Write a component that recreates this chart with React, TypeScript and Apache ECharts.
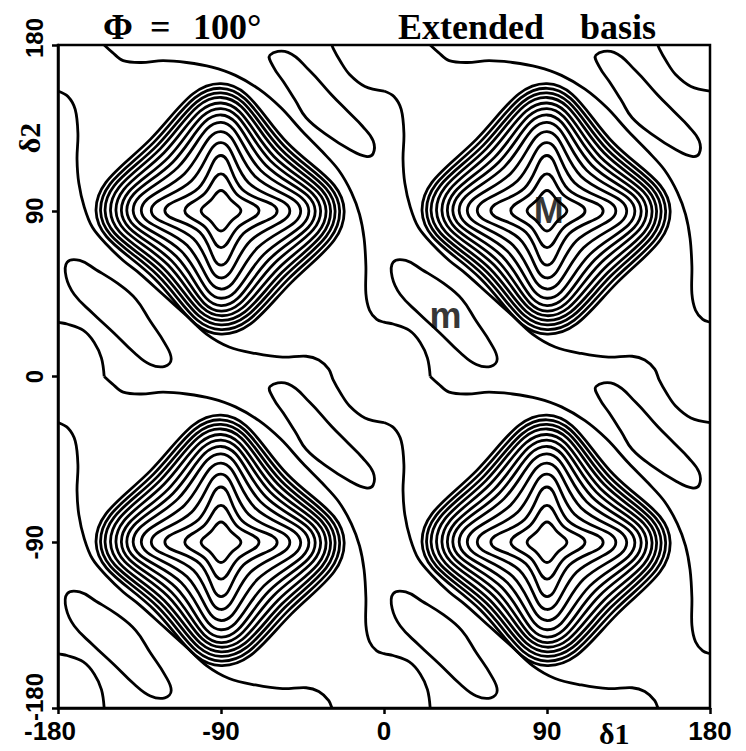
import React, { useEffect, useRef } from 'react';
import * as echarts from 'echarts';

// ---- axes ----
const xTicks = [-180, -90, 0, 90, 180];
const xTickLabels = ['-180', '-90', '0', '90', '180'];
const yTicks = [-180, -90, 0, 90, 180];
const yTickLabels = ['-180', '-90', '0', '90', '180'];

// ---- contour data (one 180x180 period tile, local coords u,v in degrees) ----
// open contour passing above / right of the maximum (one period of a periodic curve)
const upperContour: number[][] = [
  [25.5, 180], [30, 176], [36, 171.5], [46, 170.5], [58, 171.5], [71, 170.5], [85, 168],
  [98, 163.5], [111, 156], [123, 146], [135, 133], [146, 122], [155, 112], [162, 100],
  [166.5, 88], [169, 75], [170, 60], [170, 45], [172, 36], [176, 31], [180, 29.5],
  [185, 28.5], [194, 25], [200, 18.5], [204, 10], [205.5, 0],
];
// open contour passing left of / below the maximum
const lowerContour: number[][] = [
  [0, 155], [5.5, 152], [9.5, 145], [11, 132], [10.5, 118], [11.5, 105], [14.5, 92],
  [19, 81], [27, 71.5], [36, 63], [45, 56], [58, 44.5], [71, 33], [82, 23], [94.5, 16],
  [109, 12.5], [124, 10.5], [137, 11], [144, 9], [149.5, 4], [152, -2], [156, -9],
  [161, -16], [169.5, -22.5], [180, -25],
];
// closed minimum "m" (lower-left of the maximum)
const basinM: number[][] = [
  [5, 62], [12, 63], [21, 58], [33, 50.5], [43, 42], [51, 30], [59, 18], [62.5, 9.5],
  [59, 5.5], [51, 6.5], [42, 13], [31, 23.5], [19, 34.5], [9, 44.5], [4.5, 54],
];
// closed minimum at the upper-right of the maximum
const basinB: number[][] = [
  [117, 174.5], [127, 176], [139, 166], [151, 153], [160, 144], [168, 136], [174, 128],
  [174, 121], [170, 119.5], [161.5, 123], [148, 131.5], [137, 140.5], [131, 150],
  [124.5, 160], [119, 168],
];
// closed contours around the maximum M: radius (deg) per direction, outermost -> innermost
const ringE = [68, 65.5, 63, 60.5, 58, 55, 52, 48.5, 44, 38, 31, 21, 11];
const ringNE = [52, 49.5, 47, 44.5, 41.5, 38.5, 35, 31, 26.5, 21.5, 16.5, 12.5, 8];
const ringN = [69, 66.5, 64, 61.5, 58.5, 55.5, 52, 48, 43, 37, 30, 20, 11];
const ringNW = [55, 52.5, 50, 47.5, 44.5, 41, 37.5, 33.5, 28.5, 23, 17.5, 13, 8];
const ringW = [69, 66.5, 64, 61, 58, 55, 52, 48.5, 44, 38.5, 31, 20, 11];
const ringSW = [52, 49.5, 47, 44.5, 41.5, 38.5, 35, 31, 26.5, 21.5, 16.5, 12.5, 8];
const ringS = [67, 64.5, 62, 59.5, 57, 54.5, 51.5, 47.5, 42.5, 36.5, 29.5, 20, 11];
const ringSE = [55, 52.5, 50, 47.5, 44.5, 41, 37.5, 33.5, 28.5, 23, 17.5, 13, 8];
const peakLocal = [90, 90];
const tileOrigins: number[][] = [[-180, 0], [0, 0], [-180, -180], [0, -180]];
const stripeShifts = [-360, -180, 0, 180];

// ---- annotations ----
const noteText = ['M', 'm'];
const noteX = [91, 34];
const noteY = [90, 33];

type Shape = { pts: number[][]; closed: boolean };

export default function App() {
  const ref = useRef<HTMLDivElement>(null);
  useEffect(() => {
    document.body.style.margin = '0';
    const chart = echarts.init(ref.current as HTMLDivElement, null, { renderer: 'svg' });
    const shapes: Shape[] = [];
    const d = Math.SQRT1_2;
    for (const [ox, oy] of tileOrigins) {
      const cx = peakLocal[0] + ox;
      const cy = peakLocal[1] + oy;
      for (let k = 0; k < ringE.length; k++) {
        shapes.push({
          closed: true,
          pts: [
            [cx + ringE[k], cy],
            [cx + ringNE[k] * d, cy + ringNE[k] * d],
            [cx, cy + ringN[k]],
            [cx - ringNW[k] * d, cy + ringNW[k] * d],
            [cx - ringW[k], cy],
            [cx - ringSW[k] * d, cy - ringSW[k] * d],
            [cx, cy - ringS[k]],
            [cx + ringSE[k] * d, cy - ringSE[k] * d],
          ],
        });
      }
      for (const b of [basinM, basinB]) {
        shapes.push({ closed: true, pts: b.map(([u, v]) => [u + ox, v + oy]) });
      }
    }
    for (const ox of stripeShifts) {
      for (const oy of stripeShifts) {
        for (const line of [upperContour, lowerContour]) {
          const pts = line.map(([u, v]) => [u + ox, v + oy]);
          const xs = pts.map((p) => p[0]);
          const ys = pts.map((p) => p[1]);
          if (Math.max(...xs) < -180 || Math.min(...xs) > 180) continue;
          if (Math.max(...ys) < -180 || Math.min(...ys) > 180) continue;
          shapes.push({ closed: false, pts });
        }
      }
    }

    const labelFont = '"Liberation Sans Narrow", "Liberation Sans", Arial, sans-serif';
    chart.setOption({
      animation: false,
      backgroundColor: '#fff',
      grid: {
        left: 58, right: 36, top: 45, bottom: 43,
        show: true, borderColor: '#000', borderWidth: 2.5, backgroundColor: 'transparent',
      },
      xAxis: {
        type: 'value', min: -180, max: 180, interval: 90,
        axisLine: { show: true, onZero: false, lineStyle: { color: '#000', width: 2.5 } },
        axisTick: { show: true, length: 6, lineStyle: { color: '#000', width: 2.5 } },
        splitLine: { show: false },
        axisLabel: {
          color: '#000', fontSize: 26, fontWeight: 'bold', fontFamily: labelFont, margin: 10,
          formatter: (v: number) => {
            const t = xTickLabels[xTicks.indexOf(v)] ?? '';
            return v === xTicks[0] ? `{lo|${t}}` : t;
          },
          rich: { lo: { padding: [0, 16, 0, 0], fontSize: 26, fontWeight: 'bold', fontFamily: labelFont, color: '#000' } },
        },
      },
      yAxis: {
        type: 'value', min: -180, max: 180, interval: 90,
        axisLine: { show: true, onZero: false, lineStyle: { color: '#000', width: 2.5 } },
        axisTick: { show: true, length: 6, lineStyle: { color: '#000', width: 2.5 } },
        splitLine: { show: false },
        axisLabel: {
          color: '#000', fontSize: 24, fontWeight: 'bold', fontFamily: labelFont, margin: 12, rotate: 90,
          formatter: (v: number) => {
            const t = yTickLabels[yTicks.indexOf(v)] ?? '';
            if (v === yTicks[0]) return `{lo|${t}}`;
            if (v === yTicks[yTicks.length - 1]) return `{hi|${t}}`;
            return t;
          },
          rich: {
            lo: { padding: [0, 0, 0, 22], fontSize: 24, fontWeight: 'bold', fontFamily: labelFont, color: '#000' },
            hi: { padding: [0, 0, 0, 14], fontSize: 24, fontWeight: 'bold', fontFamily: labelFont, color: '#000' },
          },
        },
      },
      series: [
        {
          type: 'custom',
          silent: true,
          clip: true,
          data: shapes.map((s, i) => [s.pts[0][0], s.pts[0][1], i]),
          encode: { x: 0, y: 1 },
          renderItem: (params: any, api: any) => {
            const s = shapes[params.dataIndex];
            const points = s.pts.map((p) => api.coord(p));
            return {
              type: s.closed ? 'polygon' : 'polyline',
              shape: { points, smooth: s.closed ? 0.42 : 0.35 },
              style: { fill: 'none', stroke: '#000', lineWidth: 2.8 },
            };
          },
        },
        {
          type: 'scatter',
          silent: true,
          symbolSize: 0,
          data: noteText.map((t, i) => ({ value: [noteX[i], noteY[i]], name: t })),
          label: {
            show: true, position: 'inside', formatter: (p: any) => p.name,
            color: '#000', fontWeight: 'bold', fontSize: 36, fontFamily: '"Liberation Sans", Arial, sans-serif',
          },
        },
      ],
      graphic: [
        { type: 'text', x: 103, y: 27, style: { text: 'Φ', font: 'bold 36px "Liberation Serif", serif', fill: '#000', textVerticalAlign: 'middle' } },
        { type: 'text', x: 150, y: 27, style: { text: '=', font: 'bold 36px "Liberation Serif", serif', fill: '#000', textVerticalAlign: 'middle' } },
        { type: 'text', x: 193, y: 27, style: { text: '100°', font: 'bold 36px "Liberation Serif", serif', fill: '#000', textVerticalAlign: 'middle' } },
        { type: 'text', x: 398, y: 27, style: { text: 'Extended', font: 'bold 36px "Liberation Serif", serif', fill: '#000', textVerticalAlign: 'middle' } },
        { type: 'text', x: 580, y: 27, style: { text: 'basis', font: 'bold 36px "Liberation Serif", serif', fill: '#000', textVerticalAlign: 'middle' } },
        { type: 'text', x: 599, y: 733, style: { text: 'δ1', font: 'bold 30px "Liberation Serif", serif', fill: '#000', textVerticalAlign: 'middle' } },
        { type: 'text', x: 29, y: 138, rotation: Math.PI / 2, style: { text: 'δ2', font: 'bold 30px "Liberation Serif", serif', fill: '#000', textAlign: 'center', textVerticalAlign: 'middle' } },
      ],
    });
    return () => chart.dispose();
  }, []);
  return <div ref={ref} style={{ width: 746, height: 751 }} />;
}
